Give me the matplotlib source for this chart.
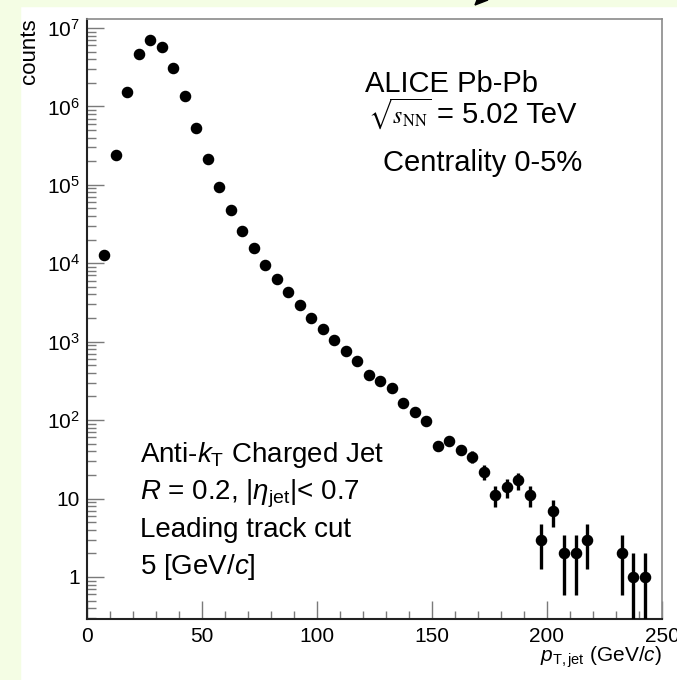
import numpy as np
import matplotlib.pyplot as plt
from matplotlib.patches import Rectangle, Polygon
from matplotlib.ticker import FixedLocator, FixedFormatter, LogLocator, MultipleLocator

plt.rcParams['font.family'] = ['Liberation Sans', 'DejaVu Sans']
plt.rcParams['mathtext.fontset'] = 'custom'
plt.rcParams['mathtext.rm'] = 'Liberation Sans'
plt.rcParams['mathtext.it'] = 'Liberation Sans:italic'
plt.rcParams['mathtext.bf'] = 'Liberation Sans:bold'

# jet pT bin centres (GeV/c) and counts
pt_jet = [7.5, 12.5, 17.5, 22.5, 27.5, 32.5, 37.5, 42.5, 47.5, 52.5,
          57.5, 62.5, 67.5, 72.5, 77.5, 82.5, 87.5, 92.5, 97.5, 102.5,
          107.5, 112.5, 117.5, 122.5, 127.5, 132.5, 137.5, 142.5, 147.5, 152.5,
          157.5, 162.5, 167.5, 172.5, 177.5, 182.5, 187.5, 192.5, 197.5, 202.5,
          207.5, 212.5, 217.5, 232.5, 237.5, 242.5]
counts = [1.27e4, 2.4e5, 1.52e6, 4.66e6, 7.0e6, 5.7e6, 3.1e6, 1.35e6, 5.3e5, 2.14e5,
          9.4e4, 4.8e4, 2.6e4, 1.57e4, 9.6e3, 6.3e3, 4.3e3, 2.9e3, 2.0e3, 1.45e3,
          1.05e3, 760, 568, 377, 316, 257, 165, 127, 97, 47,
          54, 42, 34, 22, 11, 14, 17, 11, 3, 7,
          2, 2, 3, 2, 1, 1]

y_ticks = [1, 10, 1e2, 1e3, 1e4, 1e5, 1e6, 1e7]
y_labels = ['1', '10', r'$10^{2}$', r'$10^{3}$', r'$10^{4}$', r'$10^{5}$', r'$10^{6}$', r'$10^{7}$']

W, H = 677, 680
fig = plt.figure(figsize=(W / 100, H / 100), dpi=100)
fig.patch.set_facecolor('white')

# slide background strips and the stray arrow tip at the top
bg = '#f4fde4'
fig.patches.append(Rectangle((0, 0), 20 / W, 1, transform=fig.transFigure, color=bg, zorder=0))
fig.patches.append(Rectangle((0, 1 - 5.5 / H), 1, 5.5 / H, transform=fig.transFigure, color=bg, zorder=0))
fig.patches.append(Polygon([(475 / W, 1 - 5 / H), (477 / W, 1), (488 / W, 1)],
                           closed=True, transform=fig.transFigure, color='black', zorder=1))

ax = fig.add_axes([87 / W, 61 / H, 575 / W, 600 / H])

y = np.array(counts, dtype=float)
err = np.sqrt(y)
err_low = np.where(y - err <= 0, y - 0.01, err)
ax.errorbar(pt_jet, y, yerr=[err_low, err], fmt='o', color='black', ms=7.3,
            elinewidth=2.4, capsize=0, zorder=3)

ax.set_yscale('log')
ax.set_xlim(0, 250)
ax.set_ylim(0.291, 1.3e7)

ax.xaxis.set_major_locator(MultipleLocator(50))
ax.xaxis.set_minor_locator(MultipleLocator(10))
ax.yaxis.set_major_locator(FixedLocator(y_ticks))
ax.yaxis.set_major_formatter(FixedFormatter(y_labels))
ax.yaxis.set_minor_locator(LogLocator(base=10, subs=np.arange(2, 10), numticks=20))
ax.yaxis.set_minor_formatter(FixedFormatter([]))

tick_col = '#7a7a7a'
ax.tick_params(axis='both', which='both', direction='in', color=tick_col, width=1.0,
               top=False, right=False)
ax.tick_params(axis='y', which='major', length=12.5, pad=5, labelsize=15)
ax.tick_params(axis='y', which='minor', length=6.5)
ax.tick_params(axis='x', which='major', length=13, pad=6, labelsize=15)
ax.tick_params(axis='x', which='minor', length=6)

for side in ['left', 'bottom']:
    ax.spines[side].set_color('#222222')
    ax.spines[side].set_linewidth(1.5)
for side in ['top', 'right']:
    ax.spines[side].set_color('#8a8a8a')
    ax.spines[side].set_linewidth(1.2)

# axis titles, ROOT style
fig.text(29 / W, 1 - 18 / H, 'counts', rotation=90, ha='center', va='top', fontsize=16)
fig.text(662 / W, 1 - 662 / H, r'$p_{\rm T,jet}$ (GeV/$c$)', ha='right', va='baseline', fontsize=15)

# annotations
ax.text(0.483, 0.878, 'ALICE Pb-Pb', transform=ax.transAxes, fontsize=21, va='baseline')
ax.text(0.489, 0.827, r'$\sqrt{s_{\mathrm{NN}}}$', transform=ax.transAxes,
        fontsize=17, va='baseline', math_fontfamily='stix')
ax.text(0.6087, 0.827, '= 5.02 TeV', transform=ax.transAxes, fontsize=21, va='baseline')
ax.text(0.515, 0.7467, 'Centrality 0-5%', transform=ax.transAxes, fontsize=21, va='baseline')

lines = [r'Anti-$k_{\rm T}$ Charged Jet',
         r'$R$ = 0.2, |$\eta_{\rm jet}$|< 0.7',
         'Leading track cut',
         r'5 [GeV/$c$]']
base_y = [0.2617, 0.2, 0.1367, 0.075]
for txt, by in zip(lines, base_y):
    ax.text(0.092, by, txt, transform=ax.transAxes, fontsize=20, va='baseline')

fig.savefig('out.png', dpi=100, facecolor=fig.get_facecolor())
